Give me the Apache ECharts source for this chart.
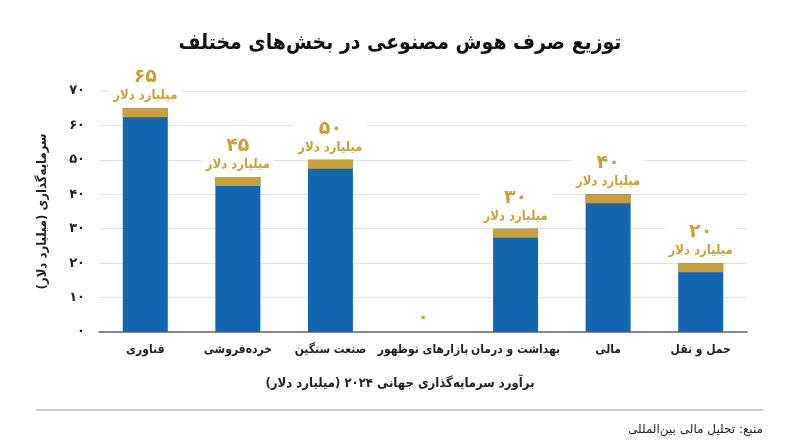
<!DOCTYPE html>
<html>
<head>
<meta charset="utf-8">
<script src="https://cdn.jsdelivr.net/npm/echarts@6/dist/echarts.min.js"></script>
<style>
  html, body { margin: 0; padding: 0; background: #fff; }
  #chart { width: 800px; height: 447px; }
</style>
</head>
<body>
<div id="chart"></div>
<script>
// ===== داده‌ها =====
const categories = ['فناوری', 'خرده‌فروشی', 'صنعت سنگین', 'بازارهای نوظهور', 'بهداشت و درمان', 'مالی', 'حمل و نقل'];
const values = [65, 45, 50, 0, 30, 40, 20];
const yTicks = [0, 10, 20, 30, 40, 50, 60, 70];

const titleText = 'توزیع صرف هوش مصنوعی در بخش‌های مختلف';
const xAxisTitle = 'برآورد سرمایه‌گذاری جهانی ۲۰۲۴ (میلیارد دلار)';
const yAxisTitle = 'سرمایه‌گذاری (میلیارد دلار)';
const unitText = 'میلیارد دلار';
const sourceText = 'منبع: تحلیل مالی بین‌المللی';

const FONT = 'DejaVu Sans';
const FONT_C = 'DejaVu Sans Condensed';
const BLUE = '#1367b0';
const GOLD = '#c9a13c';

// اعداد لاتین → فارسی
function toFa(n) {
  return String(n).replace(/\d/g, d => '۰۱۲۳۴۵۶۷۸۹'[d]);
}

const chart = echarts.init(document.getElementById('chart'));

const option = {
  backgroundColor: '#fff',
  textStyle: { fontFamily: FONT_C },
  title: {
    text: titleText,
    left: 'center',
    top: 28,
    textStyle: { fontFamily: FONT_C, fontSize: 21, fontWeight: 'bold', color: '#111' }
  },
  grid: { left: 99, right: 53, top: 91, bottom: 115 },
  xAxis: {
    type: 'category',
    data: categories,
    axisLine: { lineStyle: { color: '#888', width: 2 } },
    axisTick: { show: false },
    axisLabel: { fontFamily: FONT_C, fontSize: 12, fontWeight: 'bold', color: '#222', margin: 12, interval: 0 }
  },
  yAxis: {
    type: 'value',
    min: yTicks[0],
    max: yTicks[yTicks.length - 1],
    interval: 10,
    name: yAxisTitle,
    nameLocation: 'middle',
    nameGap: 50,
    nameTextStyle: { fontFamily: FONT_C, fontSize: 13, fontWeight: 'bold', color: '#222' },
    axisLine: { show: false },
    axisTick: { show: false },
    splitLine: { lineStyle: { color: '#e3e3e3', width: 1 } },
    axisLabel: {
      fontFamily: FONT, fontSize: 13, fontWeight: 'bold', color: '#222', margin: 14,
      formatter: v => toFa(v)
    }
  },
  series: [
    {
      type: 'bar',
      data: values,
      barWidth: 45,
      z: 2,
      itemStyle: { color: BLUE },
      label: {
        show: true,
        position: 'top',
        distance: 4,
        backgroundColor: '#fff',
        padding: [0, 4, 0, 4],
        formatter: p => p.value > 0
          ? '{n|' + toFa(p.value) + '}\n{u|' + unitText + '}'
          : '{n|' + toFa(p.value) + '}',
        rich: {
          n: { fontFamily: FONT, fontSize: 19, fontWeight: 'bold', color: GOLD, lineHeight: 20, align: 'center' },
          u: { fontFamily: FONT_C, fontSize: 13, fontWeight: 'bold', color: GOLD, lineHeight: 17, align: 'center' }
        }
      }
    },
    {
      // نوار طلایی بالای هر ستون
      type: 'pictorialBar',
      data: values.map(v => (v > 0 ? v : '-')),
      symbol: 'rect',
      symbolSize: [45, 9],
      symbolPosition: 'end',
      z: 3,
      silent: true,
      itemStyle: { color: GOLD }
    }
  ],
  graphic: [
    {
      type: 'text',
      left: 'center',
      top: 377,
      style: { text: xAxisTitle, font: 'bold 13px "DejaVu Sans Condensed"', fill: '#222' }
    },
    {
      type: 'line',
      shape: { x1: 36, y1: 410, x2: 763, y2: 410 },
      style: { stroke: '#9a9a9a', lineWidth: 1.2 }
    },
    {
      type: 'text',
      right: 37,
      top: 424,
      style: { text: sourceText, font: '12px "DejaVu Sans"', fill: '#222' }
    }
  ]
};

chart.setOption(option);
</script>
</body>
</html>
